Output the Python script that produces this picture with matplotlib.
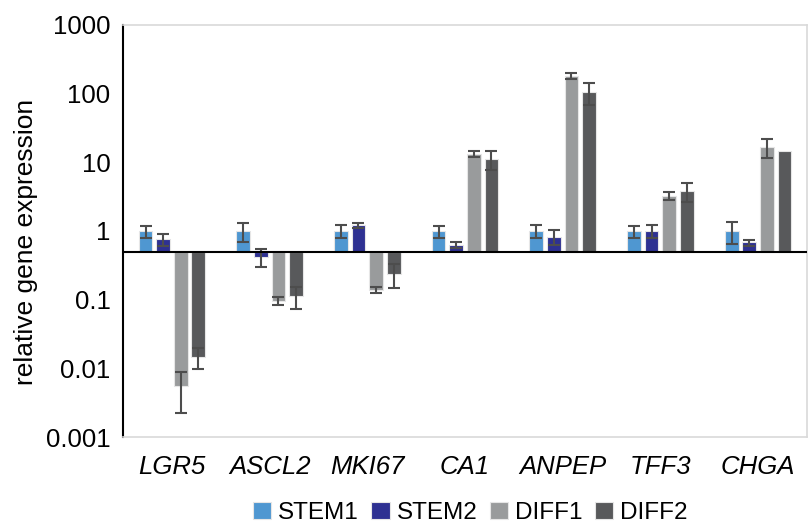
import numpy as np
import matplotlib
matplotlib.use("Agg")
import matplotlib.pyplot as plt

genes = ["LGR5", "ASCL2", "MKI67", "CA1", "ANPEP", "TFF3", "CHGA"]
series = ["STEM1", "STEM2", "DIFF1", "DIFF2"]

stem1 = [1.0, 1.0, 1.0, 1.0, 1.0, 1.0, 1.0]
stem1_err = [0.2, 0.3, 0.22, 0.2, 0.22, 0.2, 0.35]
stem2 = [0.76, 0.42, 1.21, 0.63, 0.83, 1.01, 0.68]
stem2_err = [0.15, 0.12, 0.1, 0.06, 0.2, 0.22, 0.07]
diff1 = [0.0055, 0.097, 0.14, 13.2, 181, 3.24, 16.9]
diff1_err = [0.0033, 0.014, 0.015, 1.3, 19, 0.45, 5.3]
diff2 = [0.0147, 0.114, 0.24, 11.3, 106, 3.87, 14.4]
diff2_err = [0.005, 0.04, 0.09, 3.5, 37, 1.2, 0.0]

yticks = [0.001, 0.01, 0.1, 1, 10, 100, 1000]
ytick_labels = ["0.001", "0.01", "0.1", "1", "10", "100", "1000"]
baseline = 0.5

colors = ["#4F97D1", "#2E3192", "#999B9C", "#58595B"]
plt.rcParams["font.family"] = ["Liberation Sans", "DejaVu Sans"]

fig = plt.figure(figsize=(8.11, 5.26), dpi=100)
ax = fig.add_axes([0.1517, 0.1692, 0.995 - 0.1517, 0.9525 - 0.1692])

x = np.arange(len(genes))
width = 0.14
step = 0.18
values = [stem1, stem2, diff1, diff2]
errors = [stem1_err, stem2_err, diff1_err, diff2_err]

for i, (name, vals, errs) in enumerate(zip(series, values, errors)):
    vals = np.array(vals)
    pos = x + (i - 1.5) * step
    ax.bar(pos, vals - baseline, bottom=baseline, width=width, color=colors[i],
           edgecolor="#E6E6E6", linewidth=0.8, label=name, zorder=2)
    errs = np.array(errs)
    mask = errs > 0
    ax.errorbar(pos[mask], vals[mask], yerr=errs[mask], fmt="none",
                ecolor="#4D4D4D", elinewidth=1.5, capsize=4, capthick=1.5, zorder=3)

ax.axhline(baseline, color="black", linewidth=1.5, zorder=4)

ax.set_yscale("log")
ax.set_ylim(0.001, 1000)
ax.set_xlim(-0.5, len(genes) - 0.5)
ax.set_yticks(yticks)
ax.set_yticklabels(ytick_labels)
ax.minorticks_off()
ax.tick_params(axis="y", length=0, pad=9, labelsize=18.5)
ax.set_xticks(x)
ax.set_xticklabels(genes, fontstyle="italic", fontsize=18.5)
ax.tick_params(axis="x", length=0, pad=13)

for side in ["top", "right", "bottom"]:
    ax.spines[side].set_color("#D9D9D9")
    ax.spines[side].set_linewidth(1.2)
ax.spines["left"].set_color("black")
ax.spines["left"].set_linewidth(1.5)

fig.text(0.032, 0.54, "relative gene expression", rotation=90,
         ha="center", va="center", fontsize=19)

fig.legend(loc="center", bbox_to_anchor=(0.58, 0.025), ncol=4, frameon=False,
           fontsize=17.5, handlelength=0.75, handleheight=0.75, handletextpad=0.3,
           columnspacing=0.5, borderaxespad=0, borderpad=0)

fig.savefig("out.png", dpi=100)
